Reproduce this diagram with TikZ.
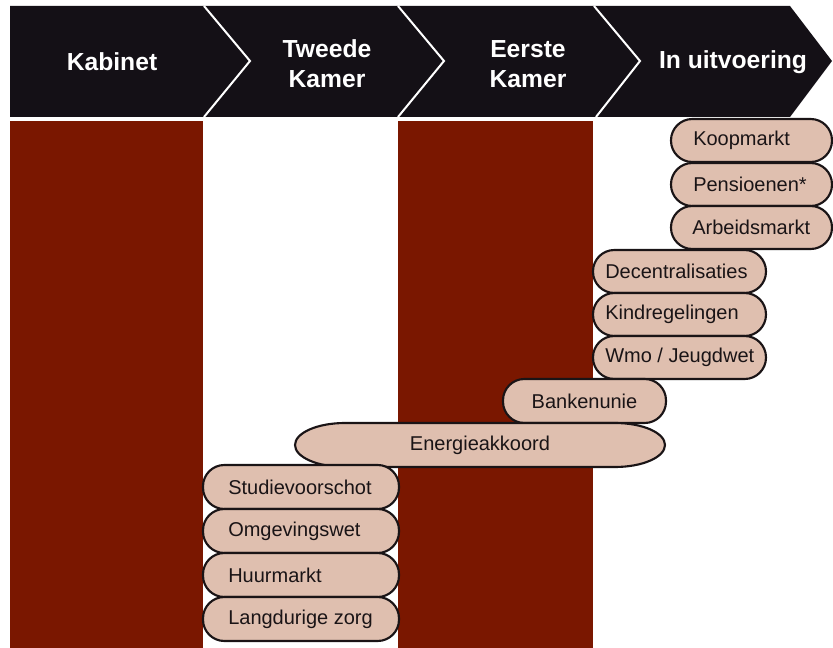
\documentclass[tikz,border=0pt]{standalone}
\usepackage{fontspec}
\setmainfont{Liberation Sans}
\definecolor{hdr}{HTML}{141016}
\definecolor{colred}{HTML}{7A1700}
\definecolor{pillfill}{HTML}{DFBFAF}
\definecolor{ink}{HTML}{1A1416}
\begin{document}
\begin{tikzpicture}[x=0.75pt,y=-0.75pt,
  pill/.style={draw=ink, line width=1.6pt, fill=pillfill, rounded corners=16pt},
  longpill/.style={draw=ink, line width=1.6pt, fill=pillfill},
  lbl/.style={inner sep=0pt, text=ink, font=\fontsize{15}{18}\selectfont},
  hlbl/.style={inner sep=0pt, text=white, align=center, font=\fontsize{18.5}{22.5}\selectfont\bfseries},
  sep/.style={draw=white, line width=1.5pt}]
\useasboundingbox (0,0) rectangle (833,648);
% header band
\fill[hdr] (10,6) -- (790,6) -- (832,61) -- (790,117) -- (10,117) -- cycle;
\draw[sep] (204,6) -- (250,61) -- (204,117);
\draw[sep] (398,6) -- (444,61) -- (398,117);
\draw[sep] (594,6) -- (640,61) -- (596,117);
\node[hlbl] (kab) at (112,62) {Kabinet};
\node[hlbl] (tk) at (327,64) {Tweede\\Kamer};
\node[hlbl] (ek) at (528,64) {Eerste\\Kamer};
\node[hlbl] (uit) at (733,62) {In uitvoering};
% columns
\fill[colred] (10,121) rectangle (203,648);
\fill[colred] (398,121) rectangle (593,648);
% pills
\draw[pill] (671,119) rectangle (832,162);
\node[lbl, anchor=west] (koop) at (693,140.5) {Koopmarkt};
\draw[pill] (671,163) rectangle (832,206);
\node[lbl, anchor=west] (pens) at (693,184.5) {Pensioenen*};
\draw[pill] (671,206) rectangle (832,249);
\node[lbl, anchor=west] (arb) at (692,227.5) {Arbeidsmarkt};
\draw[pill] (593,250) rectangle (766,293);
\node[lbl, anchor=west] (dec) at (605,271.5) {Decentralisaties};
\draw[pill] (593,293) rectangle (766,336);
\node[lbl, anchor=west] (kind) at (605,314.5) {Kindregelingen};
\draw[pill] (593,336) rectangle (766,379);
\node[lbl, anchor=west] (wmo) at (605,357.5) {Wmo / Jeugdwet};
\draw[pill] (503,379) rectangle (666,423);
\node[lbl] (bank) at (584.5,401) {Bankenunie};
\draw[longpill] (345,423) -- (615,423)
  arc[start angle=90, end angle=-90, x radius=37.5pt, y radius=16.5pt]
  -- (345,467)
  arc[start angle=270, end angle=90, x radius=37.5pt, y radius=16.5pt] -- cycle;
\node[lbl] (energ) at (480,445) {Energieakkoord};
\draw[pill] (203,465) rectangle (399,509);
\node[lbl, anchor=west] (stud) at (228,487) {Studievoorschot};
\draw[pill] (203,509) rectangle (399,553);
\node[lbl, anchor=west] (omg) at (228,531) {Omgevingswet};
\draw[pill] (203,553) rectangle (399,597);
\node[lbl, anchor=west] (huur) at (228,575) {Huurmarkt};
\draw[pill] (203,597) rectangle (399,641);
\node[lbl, anchor=west] (lang) at (228,619) {Langdurige zorg};
\end{tikzpicture}
\end{document}
